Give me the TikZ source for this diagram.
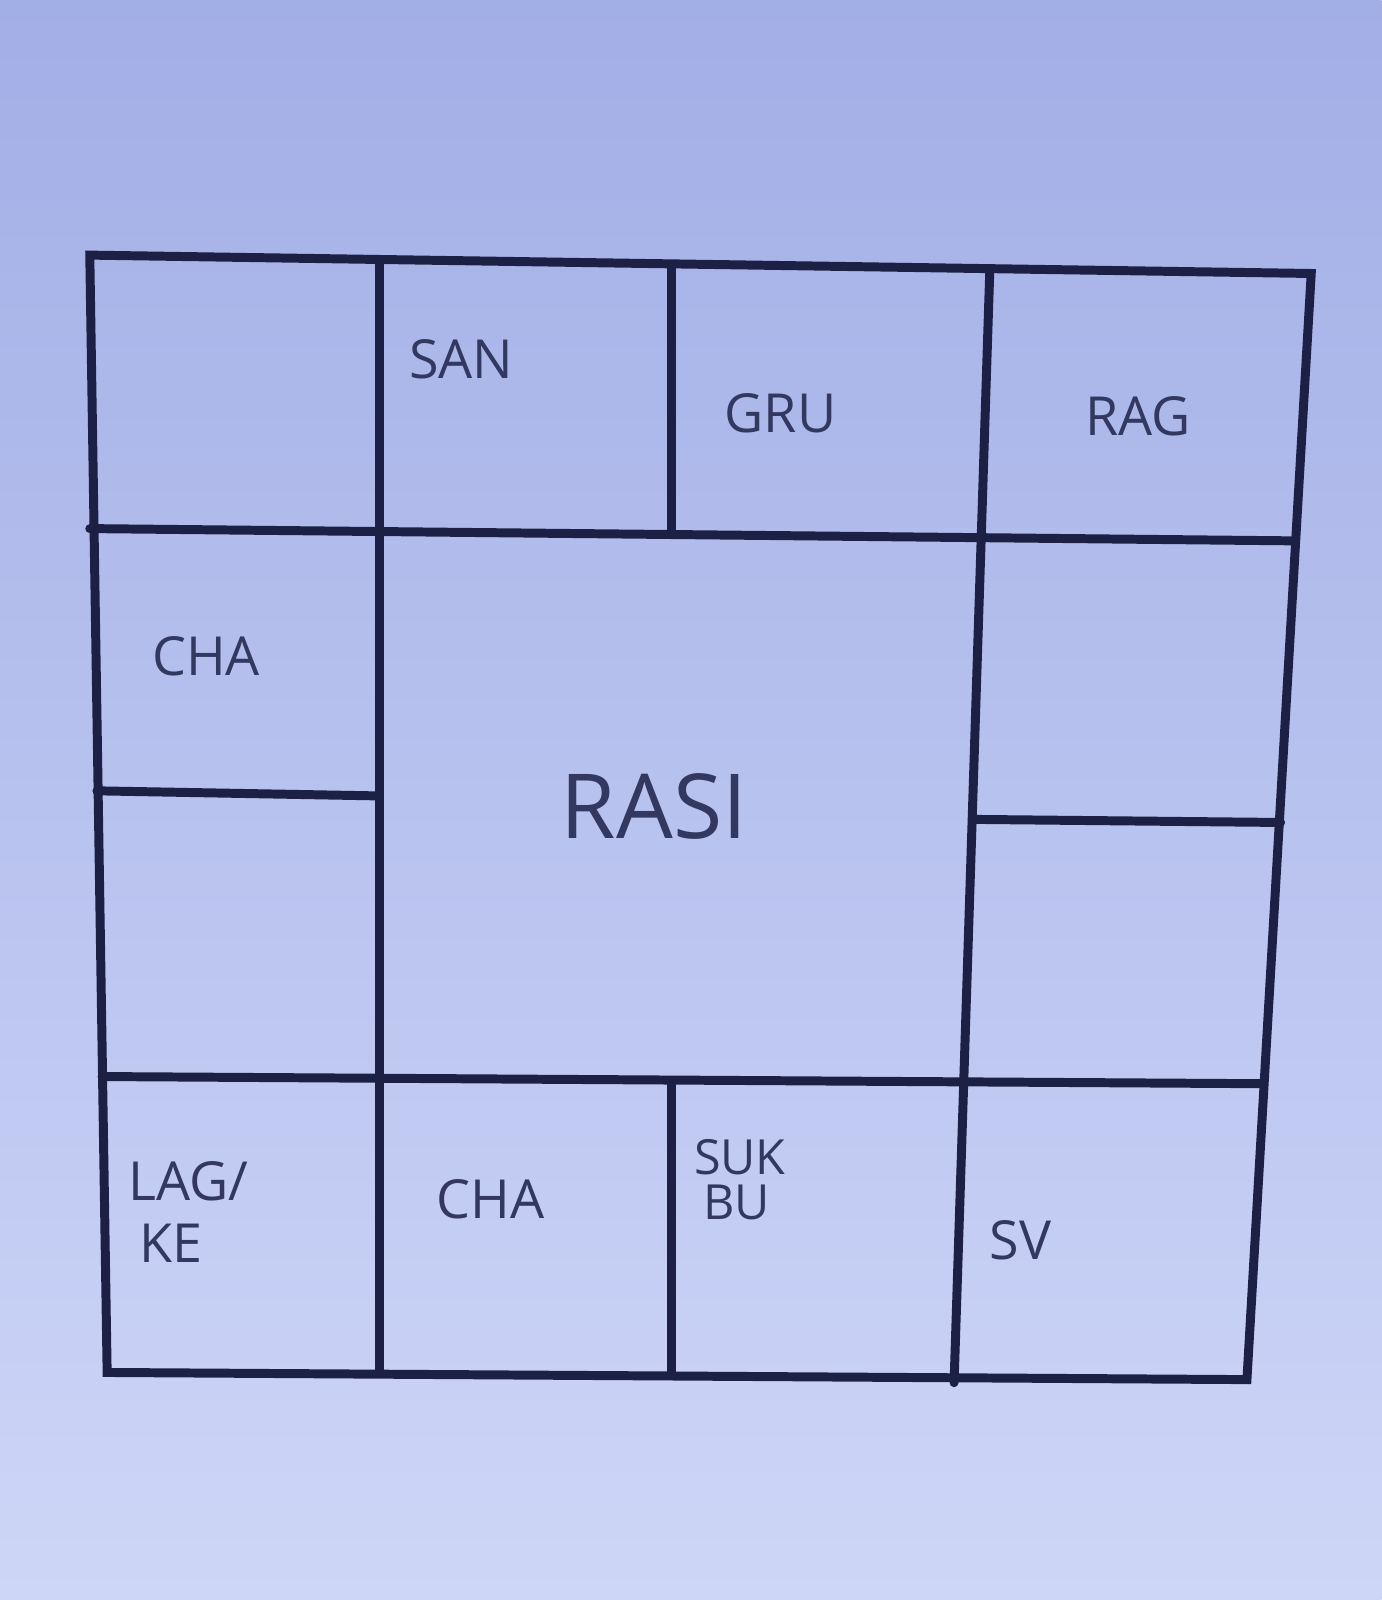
\documentclass[tikz,border=0pt]{standalone}
\usepackage{fontspec}
\setmainfont{Open Sans}
\definecolor{bgtop}{RGB}{162,174,230}
\definecolor{bgbot}{RGB}{206,214,247}
\definecolor{ink}{RGB}{28,32,68}
\definecolor{txt}{RGB}{50,56,95}

\begin{document}
\begin{tikzpicture}[
  x=0.01cm, y=-0.01cm,
  grid/.style={line width=2.5pt, draw=ink, line cap=round},
  lbl/.style={text=txt, font=\fontsize{15}{15}\selectfont, inner sep=0pt},
  tight/.style={lbl, font=\fontsize{13.5}{13.5}\selectfont, text depth=0pt, text height=9.5pt},
]

\shade [top color=bgtop, bottom color=bgbot] (0,0) rectangle (1354,1568);
\useasboundingbox (0,0) rectangle (1354,1568);

% outer frame
\draw [grid] (88,250) -- (1285,268) -- (1222,1352) -- (105,1345) -- cycle;
% verticals
\draw [grid] (372,258) -- (372,1345);
\draw [grid] (658,262) -- (658,522);
\draw [grid] (658,1060) -- (658,1348);
\draw [grid] (970,265) -- (935,1355);
% horizontals
\draw [grid] (88,518) -- (1265,530);
\draw [grid] (95,775) -- (372,780);
\draw [grid] (955,803) -- (1255,806);
\draw [grid] (100,1055) -- (1235,1062);

\node [lbl] (san) at (452,352) {SAN};
\node [lbl] (gru) at (765,405) {GRU};
\node [lbl] (rag) at (1115,408) {RAG};
\node [lbl] (chaA) at (202,643) {CHA};
\node [text=txt, font=\fontsize{25}{25}\selectfont, inner sep=0pt] (rasi) at (641,790) {RASI};
\node [lbl] (lag) at (185,1158) {LAG/};
\node [lbl] (ke) at (168,1218) {KE};
\node [lbl] (chaB) at (481,1175) {CHA};
\node [tight] (suk) at (725,1134) {SUK};
\node [tight] (bu) at (722,1178) {BU};
\node [lbl] (sv) at (1000,1215) {SV};

\end{tikzpicture}
\end{document}
